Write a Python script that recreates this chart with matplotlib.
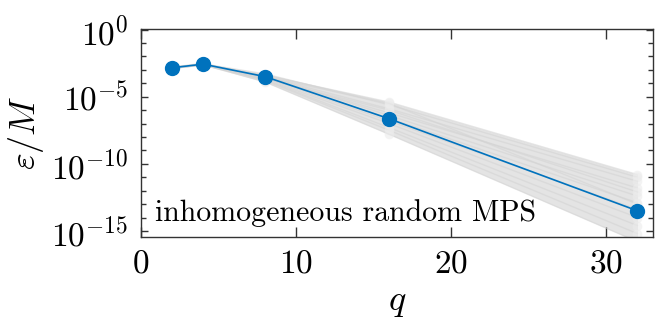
import numpy as np
import matplotlib
matplotlib.use("Agg")
import matplotlib.pyplot as plt
from matplotlib.ticker import FixedLocator, LogFormatterMathtext, NullFormatter

plt.rcParams['mathtext.fontset'] = 'cm'
plt.rcParams['font.family'] = ['cmr10', 'DejaVu Serif']
plt.rcParams['axes.formatter.use_mathtext'] = True

# bond dimension q
q = [2, 4, 8, 16, 32]
# mean error (log10 of eps/M)
mean_log_eps = [-2.84, -2.57, -3.5, -6.64, -13.5]
# individual random MPS samples (log10 of eps/M)
sample_log_eps = [
    [-2.80, -2.60, -3.40, -5.40, -10.8],
    [-2.85, -2.55, -3.30, -5.60, -11.0],
    [-2.90, -2.60, -3.50, -5.90, -11.3],
    [-2.80, -2.50, -3.60, -6.20, -11.8],
    [-2.85, -2.60, -3.45, -6.40, -12.4],
    [-2.90, -2.55, -3.55, -6.60, -12.9],
    [-2.80, -2.60, -3.60, -6.80, -13.4],
    [-2.85, -2.65, -3.70, -7.00, -14.0],
    [-2.90, -2.60, -3.75, -7.30, -14.6],
    [-2.80, -2.55, -3.80, -7.50, -15.2],
    [-2.85, -2.60, -3.90, -7.80, -15.8],
    [-2.90, -2.60, -3.65, -6.00, -12.1],
    [-2.80, -2.60, -3.50, -5.50, -13.0],
]

blue = '#0072BD'

fig = plt.figure(figsize=(6.6, 3.29), dpi=100)
ax = fig.add_axes([0.2136, 0.2796, 0.7758, 0.6323])

samples = 10.0 ** np.array(sample_log_eps)
ax.fill_between(q, samples.min(axis=0), samples.max(axis=0),
                color='#e4e4e4', lw=0, zorder=1)
for s in samples:
    ax.plot(q, s, color='#d4d4d4', lw=1.0, alpha=0.6, marker='o',
            markersize=7, markerfacecolor='#ececec', markeredgecolor='none', zorder=2)

ax.plot(q, 10.0 ** np.array(mean_log_eps), color=blue, lw=1.2, marker='o',
        markersize=10, markerfacecolor=blue, markeredgecolor=blue, zorder=3)

ax.set_yscale('log')
ax.set_xlim(0, 33)
ax.set_ylim(10 ** -15.45, 10 ** 0.05)

ax.set_xticks([0, 10, 20, 30])
ax.yaxis.set_major_locator(FixedLocator([1e0, 1e-5, 1e-10, 1e-15]))
ax.yaxis.set_major_formatter(LogFormatterMathtext())
ax.yaxis.set_minor_locator(FixedLocator([10.0 ** k for k in range(-15, 1)]))
ax.yaxis.set_minor_formatter(NullFormatter())

ax.tick_params(axis='x', which='major', direction='in', top=True, length=7,
               width=1, color='#333333', labelsize=24, pad=9)
ax.tick_params(axis='y', which='major', direction='in', right=True, length=5,
               width=1, color='#333333', labelsize=24, pad=9)
ax.tick_params(axis='y', which='minor', direction='in', right=True, length=3.5,
               width=1, color='#333333')
for sp in ax.spines.values():
    sp.set_color('#333333')
    sp.set_linewidth(1.0)

ax.set_xlabel(r'$q$', fontsize=26, labelpad=6)
ax.set_ylabel(r'$\varepsilon/M$', fontsize=26, labelpad=4)

ax.text(0.027, 0.115, 'inhomogeneous random MPS', transform=ax.transAxes,
        fontsize=21.5, va='center', ha='left', zorder=4)

fig.savefig('out.png', dpi=100)
